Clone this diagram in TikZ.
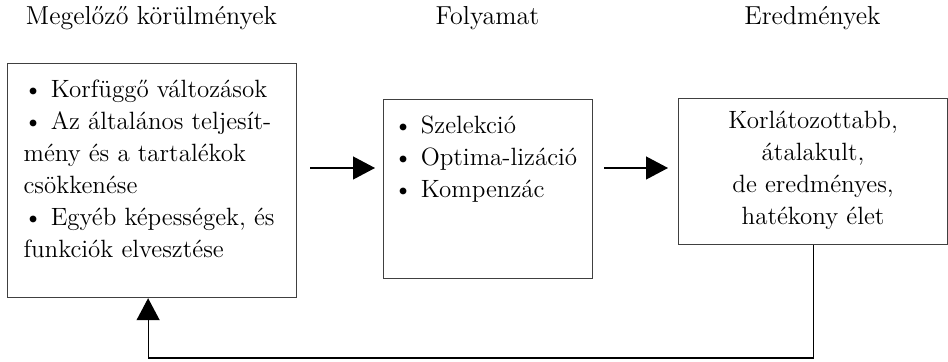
\documentclass[tikz,border=0pt]{standalone}
\usetikzlibrary{arrows.meta}

\tikzset{
	box/.style={draw=black!75, line width=0.6pt, inner xsep=8pt, inner ysep=6pt, anchor=north west},
	flow/.style={-{Triangle[length=11pt,width=11.5pt]}, line width=0.6pt},
	head/.style={anchor=base, font=\fontsize{13pt}{16pt}\selectfont}
}

\begin{document}
\begin{tikzpicture}[x=0.5pt, y=-0.5pt, font=\fontsize{12.5pt}{16pt}\selectfont]
	\useasboundingbox (0,0) rectangle (948,362);
	
	%dobozok
	\node[box] (cond) at (7,63)
		{\parbox[t][105pt][t]{128.5pt}{\raggedright\strut
		\textbullet{} Korfüggő változások\\
		\textbullet{} Az általános teljesít-\\
		mény és a tartalékok\\
		csökkenése\\
		\textbullet{} Egyéb képességek, és\\
		funkciók elvesztése}};
	\node[box, inner xsep=5pt] (proc) at (383,99)
		{\parbox[t][77.5pt][t]{94.5pt}{\raggedright\strut
		\textbullet{} Szelekció\\
		\textbullet{} Optima-lizáció\\
		\textbullet{} Kompenzác}};
	\node[box, inner xsep=4pt, inner ysep=4pt] (res) at (678,98)
		{\parbox[t][65pt][t]{126.5pt}{\centering\strut
		Korlátozottabb,\\
		átalakult,\\
		de eredményes,\\
		hatékony élet}};
	
	%fejlecek
	\node[head] (hcond) at (151.5,25) {Megelőző körülmények};
	\node[head] (hproc) at (487.5,25) {Folyamat};
	\node[head] (hres) at (812.5,25) {Eredmények};
	
	%nyilak
	\coordinate (lvl) at (0,168);
	\coordinate (low) at (0,358);
	\draw[flow, shorten <=6.5pt, shorten >=4pt] (cond.east |- lvl) -- (proc.west |- lvl);
	\draw[flow, shorten <=5.5pt, shorten >=5pt] (proc.east |- lvl) -- (res.west |- lvl);
	\draw[flow] (res.south) -- (res.south |- low) -| ([xshift=-2pt]cond.south);
\end{tikzpicture}
\end{document}
